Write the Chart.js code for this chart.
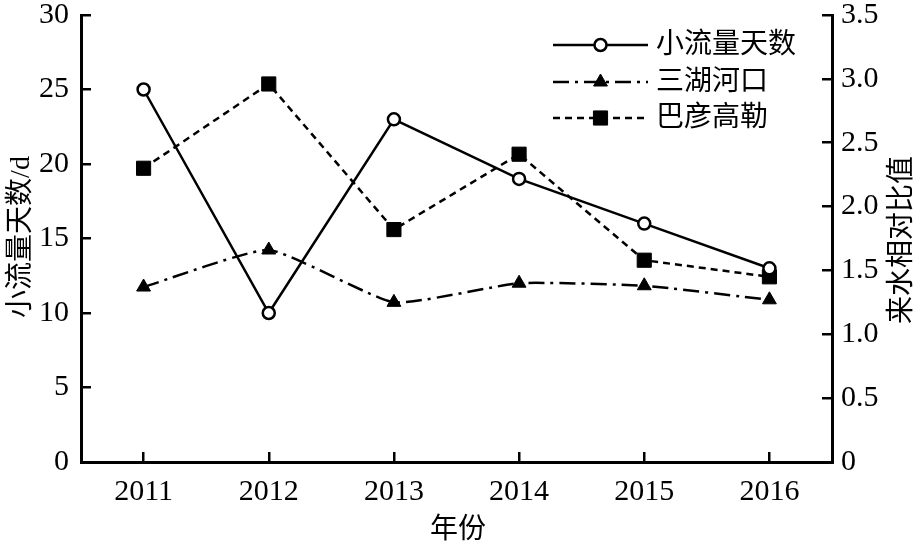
<!DOCTYPE html>
<html>
<head>
<meta charset="utf-8">
<script src="https://cdn.jsdelivr.net/npm/chart.js@4/dist/chart.umd.min.js"></script>
<style>
  html, body { margin: 0; padding: 0; background: #fff; }
  #wrap { width: 922px; height: 549px; position: relative; }
</style>
</head>
<body>
<div id="wrap"><canvas id="chart"></canvas></div>
<script>
// data
const years = ['2011', '2012', '2013', '2014', '2015', '2016'];
const lowFlowDays = [25, 10, 23, 19, 16, 13];
const sanhuRatio = [1.37, 1.66, 1.25, 1.40, 1.38, 1.27];
const bayanRatio = [2.30, 2.96, 1.82, 2.41, 1.58, 1.45];
const leftTicks = [0, 5, 10, 15, 20, 25, 30];
const rightTicks = [0, 0.5, 1.0, 1.5, 2.0, 2.5, 3.0, 3.5];

const FONT = '"Liberation Serif", "Noto Sans CJK SC", serif';
const INK = '#000';

// axis titles (both vertical ones read bottom-to-top) and the legend
const decor = {
  id: 'decor',
  afterDraw(chart) {
    const ctx = chart.ctx;
    ctx.save();
    ctx.fillStyle = INK;
    ctx.font = '28px ' + FONT;
    ctx.textAlign = 'center';
    ctx.textBaseline = 'middle';
    ctx.fillText('年份', 458, 531);
    ctx.save();
    ctx.translate(22, 237);
    ctx.rotate(-Math.PI / 2);
    ctx.fillText('小流量天数/d', 0, 0);
    ctx.restore();
    ctx.save();
    ctx.translate(903, 240);
    ctx.rotate(-Math.PI / 2);
    ctx.fillText('来水相对比值', 0, 0);
    ctx.restore();

    // legend: line sample + marker + label
    const x0 = 553, x1 = 648, tx = 656;
    const rows = [45, 82, 118];
    chart.data.datasets.forEach((ds, i) => {
      const y = rows[i];
      ctx.strokeStyle = INK;
      ctx.lineWidth = ds.borderWidth;
      ctx.setLineDash(ds.borderDash || []);
      ctx.beginPath();
      ctx.moveTo(x0, y);
      ctx.lineTo(x1, y);
      ctx.stroke();
      ctx.setLineDash([]);
      ctx.fillStyle = ds.pointBackgroundColor;
      ctx.strokeStyle = ds.pointBorderColor;
      ctx.lineWidth = ds.pointBorderWidth;
      Chart.helpers.drawPoint(ctx, {
        pointStyle: ds.pointStyle,
        radius: ds.pointRadius,
        borderWidth: ds.pointBorderWidth
      }, (x0 + x1) / 2, y);
      ctx.fillStyle = INK;
      ctx.font = '28px ' + FONT;
      ctx.textBaseline = 'middle';
      ctx.textAlign = 'left';
      ctx.fillText(ds.label, tx, y + 1);
    });
    ctx.restore();
  }
};

const tickFont = { family: FONT, size: 30 };
// negative tickLength makes the library draw its tick marks into the plot
const inwardTicks = {
  display: true,
  drawOnChartArea: false,
  drawTicks: true,
  tickLength: -10,
  color: INK,
  lineWidth: 2.5
};

new Chart(document.getElementById('chart'), {
  type: 'line',
  data: {
    labels: years,
    datasets: [
      {
        label: '小流量天数',
        data: lowFlowDays,
        yAxisID: 'y',
        borderColor: INK,
        borderWidth: 2.5,
        pointStyle: 'circle',
        pointRadius: 6,
        pointBorderWidth: 2.5,
        pointBackgroundColor: '#fff',
        pointBorderColor: INK,
        tension: 0
      },
      {
        label: '三湖河口',
        data: sanhuRatio,
        yAxisID: 'y1',
        borderColor: INK,
        borderWidth: 2.5,
        borderDash: [16, 6, 3, 6],
        pointStyle: 'triangle',
        pointRadius: 8,
        pointBorderWidth: 1,
        pointBackgroundColor: INK,
        pointBorderColor: INK,
        tension: 0.15
      },
      {
        label: '巴彦高勒',
        data: bayanRatio,
        yAxisID: 'y1',
        borderColor: INK,
        borderWidth: 2.5,
        borderDash: [7, 5],
        pointStyle: 'rect',
        pointRadius: 10,
        pointBorderWidth: 1,
        pointBackgroundColor: INK,
        pointBorderColor: INK,
        tension: 0
      }
    ]
  },
  options: {
    responsive: true,
    maintainAspectRatio: false,
    animation: false,
    layout: { padding: { top: 15 } },
    plugins: {
      legend: { display: false },
      tooltip: { enabled: false }
    },
    scales: {
      x: {
        offset: true,
        grid: { ...inwardTicks, offset: false },
        border: { display: true, color: INK, width: 3 },
        ticks: { color: INK, font: tickFont, padding: 22, maxRotation: 0 },
        afterFit(s) { s.height = 87; s.paddingLeft = 0; s.paddingRight = 0; }
      },
      y: {
        position: 'left',
        min: 0, max: 30,
        afterBuildTicks(s) { s.ticks = leftTicks.map(v => ({ value: v })); },
        grid: inwardTicks,
        border: { display: true, color: INK, width: 3 },
        ticks: { color: INK, font: tickFont, padding: 22 },
        afterFit(s) { s.width = 81; s.paddingTop = 0; s.paddingBottom = 0; }
      },
      y1: {
        position: 'right',
        min: 0, max: 3.5,
        afterBuildTicks(s) { s.ticks = rightTicks.map(v => ({ value: v })); },
        grid: inwardTicks,
        border: { display: true, color: INK, width: 3 },
        ticks: {
          color: INK, font: tickFont, padding: 19,
          callback: v => (v === 0 ? '0' : v.toFixed(1))
        },
        afterFit(s) { s.width = 90; s.paddingTop = 0; s.paddingBottom = 0; }
      }
    }
  },
  plugins: [decor]
});
</script>
</body>
</html>
